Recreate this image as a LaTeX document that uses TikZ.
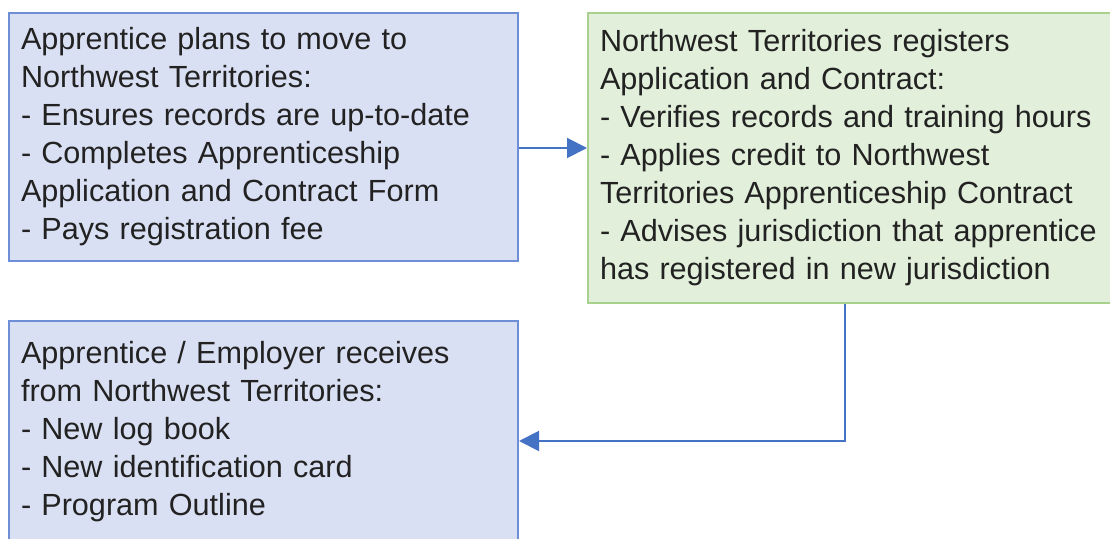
\documentclass[tikz,border=0pt]{standalone}
\usepackage{fontspec}
\setmainfont{Liberation Sans}
\usetikzlibrary{arrows.meta,positioning,calc}
\definecolor{bluefill}{HTML}{DAE0F3}
\definecolor{blueline}{HTML}{6E8FD8}
\definecolor{greenfill}{HTML}{E2EFDA}
\definecolor{greenline}{HTML}{A9D18E}
\definecolor{arrowblue}{HTML}{4472C4}
\definecolor{ink}{HTML}{222222}

\begin{document}
\begin{tikzpicture}[
  node distance=29pt and 34pt,
  box/.style={draw=blueline, fill=bluefill, line width=1pt, anchor=north west,
              minimum height=124pt, text width=242.5pt, inner xsep=6pt, align=left,
              font=\fontsize{15.3}{19}\selectfont, text=ink},
  greenbox/.style={box, draw=greenline, fill=greenfill, minimum height=145pt, text width=258pt},
  link/.style={-{Triangle[length=10pt,width=10pt]}, draw=arrowblue, line width=1pt}]
\useasboundingbox (0,0) rectangle (555pt,-269.5pt);
\node[box] (plans) at (4pt,-6pt) {Apprentice plans to move to\\Northwest Territories:\\- Ensures records are up-to-date\\- Completes Apprenticeship\\Application and Contract Form\\- Pays registration fee};
\node[greenbox, right=of plans.north east, anchor=north west] (registers) {Northwest Territories registers\\Application and Contract:\\- Verifies records and training hours\\- Applies credit to Northwest\\Territories Apprenticeship Contract\\- Advises jurisdiction that apprentice\\has registered in new jurisdiction};
\node[box, below=of plans.south west, anchor=north west, minimum height=111pt] (receives) {Apprentice / Employer receives\\from Northwest Territories:\\- New log book\\- New identification card\\- Program Outline};
\draw[link] ([yshift=-5.5pt]plans.east) -- ([yshift=-5.5pt]plans.east -| registers.west);
\draw[link] ([xshift=129pt]registers.south west) |- ([yshift=-4.5pt]receives.east);
\end{tikzpicture}
\end{document}
